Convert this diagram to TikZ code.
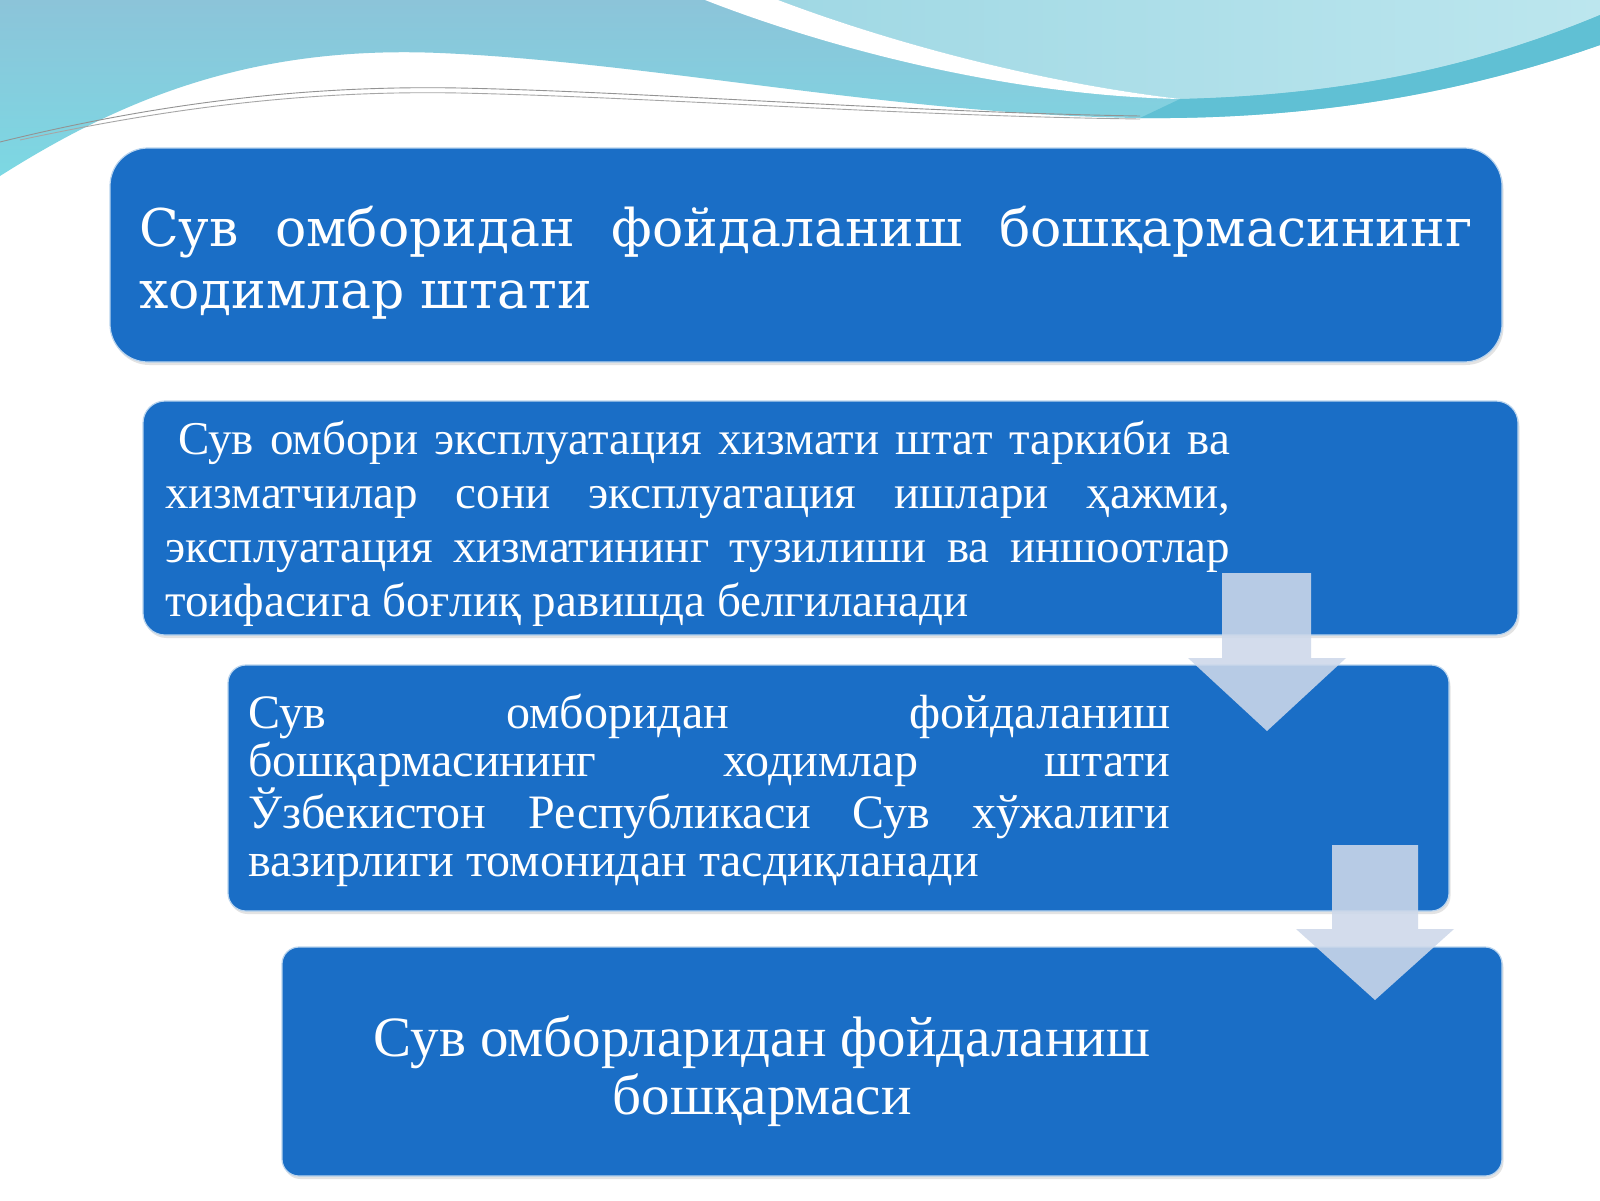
\documentclass[tikz,border=0pt]{standalone}
\usepackage{fontspec}
\setmainfont{Liberation Serif}
\newfontfamily\headfont{DejaVu Serif}
\usetikzlibrary{shadows}
\definecolor{boxblue}{RGB}{26,110,198}
\definecolor{boxedge}{RGB}{185,212,238}
\definecolor{arrowfill}{RGB}{205,216,234}
\definecolor{waveA}{RGB}{140,196,217}
\definecolor{waveAb}{RGB}{124,216,227}
\definecolor{waveC}{RGB}{160,216,228}
\definecolor{waveCr}{RGB}{188,230,238}
\definecolor{band}{RGB}{96,192,212}
\tikzset{
  box/.style={draw=boxedge, line width=1.2pt, fill=boxblue, inner sep=0pt,
    drop shadow={opacity=0.22, shadow xshift=1.5pt, shadow yshift=-3pt}},
  boxtext/.style={text=white, inner sep=0pt},
  flowarrow/.style={fill=arrowfill, fill opacity=0.88, draw=none}
}
\begin{document}
\begin{tikzpicture}[x=1pt,y=-1pt]
\useasboundingbox (0,0) rectangle (1600,1200);
\fill[white] (0,0) rectangle (1600,1200);
% top waves
\shade[top color=waveA, bottom color=waveAb]
  (0,0) -- (1600,0) -- (1600,45) .. controls (1500,80) and (1350,120) .. (1140,118)
  .. controls (900,115) and (650,62) .. (440,53)
  .. controls (250,45) and (120,100) .. (0,176) -- cycle;
\shade[left color=waveC, right color=waveCr]
  (778,0) -- (1600,0) -- (1600,15) .. controls (1480,65) and (1350,95) .. (1180,99)
  .. controls (1020,80) and (870,35) .. (778,0) -- cycle;
\fill[band]
  (1180,99) .. controls (1350,95) and (1480,65) .. (1600,15) -- (1600,45)
  .. controls (1500,80) and (1350,120) .. (1140,118) -- cycle;
\fill[white]
  (705,0) .. controls (820,45) and (1000,95) .. (1180,99)
  .. controls (1020,80) and (870,35) .. (778,0) -- cycle;
\draw[gray!85, line width=0.9pt]
  (0,142) .. controls (150,105) and (300,85) .. (459,88) .. controls (650,92) and (900,112) .. (1140,116);
\draw[gray!70, line width=0.9pt]
  (20,140) .. controls (160,110) and (300,90) .. (459,93) .. controls (650,97) and (900,116) .. (1140,119);
% boxes
\node[box, rounded corners=38pt, minimum width=1392pt, minimum height=214pt] (b1) at (806,255) {};
\node[box, rounded corners=22pt, minimum width=1375pt, minimum height=234pt] (b2) at (830.5,518) {};
\node[box, rounded corners=18pt, minimum width=1221pt, minimum height=246pt] (b3) at (838.5,788) {};
\node[box, rounded corners=17pt, minimum width=1220pt, minimum height=229pt] (b4) at (892,1061.5) {};
% texts
\node[boxtext, anchor=base west, text width=1333pt, align=justify,
  font=\headfont\fontsize{52}{62}\selectfont] (t1) at (139,246)
  {Сув омборидан фойдаланиш бошқармасининг\linebreak ходимлар штати};
\node[boxtext, anchor=base west, text width=1065pt, align=justify,
  font=\fontsize{47}{54.3}\selectfont] (t2) at (165,454)
  {\hspace*{13pt}Сув омбори эксплуатация хизмати штат таркиби ва\linebreak
   хизматчилар сони эксплуатация ишлари ҳажми,\linebreak
   эксплуатация хизматининг тузилиши ва иншоотлар\linebreak
   тоифасига боғлиқ равишда белгиланади};
\node[boxtext, anchor=base west, text width=922pt, align=justify,
  font=\fontsize{48}{48.5}\selectfont] (t3) at (248,728)
  {Сув омборидан фойдаланиш\linebreak
   бошқармасининг ходимлар штати\linebreak
   Ўзбекистон Республикаси Сув хўжалиги\linebreak
   вазирлиги томонидан тасдиқланади};
\node[boxtext, anchor=base, align=center,
  font=\fontsize{57}{58}\selectfont] (t4) at (762,1114)
  {Сув омборларидан фойдаланиш\\ бошқармаси};
% arrows
\fill[flowarrow] (1222,573) -- (1311,573) -- (1311,658) -- (1346,658) -- (1267,731)
  -- (1188,658) -- (1222,658) -- cycle;
\fill[flowarrow] (1332,845) -- (1418,845) -- (1418,929) -- (1454,929) -- (1375,1000)
  -- (1296,929) -- (1332,929) -- cycle;
\end{tikzpicture}
\end{document}
